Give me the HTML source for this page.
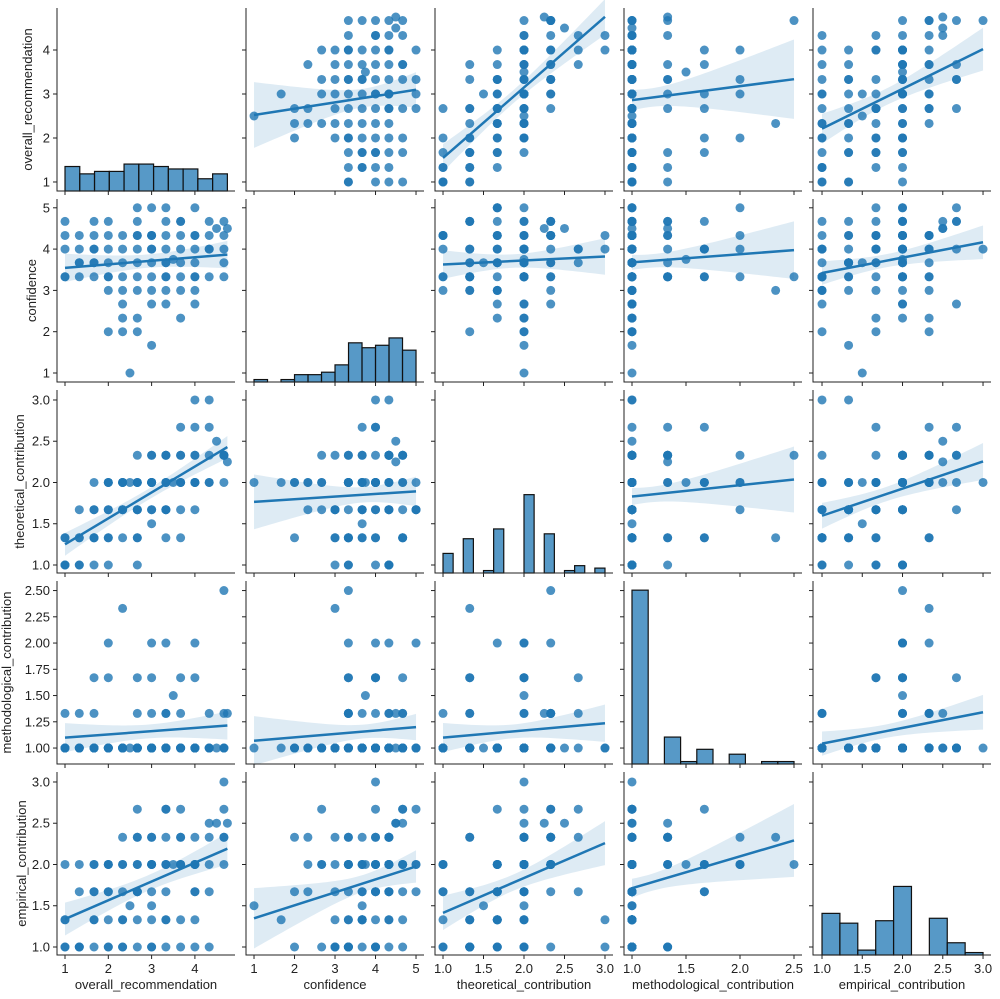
<!DOCTYPE html>
<html><head><meta charset="utf-8">
<style>
html,body{margin:0;padding:0;background:#fff;}
svg{display:block;font-family:"Liberation Sans","DejaVu Sans",sans-serif;}
</style></head>
<body>
<svg id="chart" width="1000" height="999" viewBox="0 0 1000 999" xmlns="http://www.w3.org/2000/svg"></svg>
<script>
// ---- data (one entry per review) ----
const overallRecommendation = [1,1,1,1,1,1.33,1.33,1.33,1.33,1.67,1.67,1.67,1.67,1.67,1.67,2,2,2,2,2,2,2.33,2.33,2.33,2.33,2.33,2.33,2.33,2.67,2.67,2.67,2.67,2.67,2.67,2.67,2.67,2.67,3,3,3,3,3,3,3,3,3,3.33,3.33,3.33,3.33,3.33,3.33,3.33,3.33,3.33,3.5,3.67,3.67,3.67,3.67,3.67,3.67,3.67,4,4,4,4,4,4,4,4,4.33,4.33,4.33,4.33,4.33,4.5,4.67,4.67,4.67,4.67,4.67,2.5,4.75,2,3,3.67,2.67,3.33,1.33,2,3,1.67,2.33,4];
const confidence = [4,4.67,4.33,3.33,3.33,3.67,4.33,3.67,4,3.67,4.67,4.33,3.33,3.67,4,3.33,4.33,3.33,3,2,4,4.33,3.67,3,2.67,2.33,2,3.33,5,4.67,4.33,4,3.67,3.33,3,2.33,2,4.33,4,3.33,3,2.67,1.67,3.67,4,4.33,5,4.67,4.33,4,3.67,3.33,3,2.67,3.67,3.75,4.33,4,3.67,3.33,3,2.33,4.67,3.33,4.33,4,3.67,3.33,3,2.67,4.33,4.33,3.33,4,4.67,4,4.5,4.67,4.33,4,3.33,3.67,1,4.5,3.67,4.33,4.67,4.33,3.33,3.33,4.67,5,4,4,5];
const theoreticalContribution = [1,1.33,1,1.33,1,1.33,1,1.67,1.33,1.33,1.67,1,1.33,2,1.67,1.33,2,1.67,1,2,2,1.67,2,1.33,1.67,2,2,2,1.67,2,2.33,2,1.67,2,1.33,1.67,1.33,2,2.33,2,1.67,2,2,1.5,2,2.33,1.67,2.33,1.67,2,2.33,2,1.67,2.33,2,2,2,2.67,2,2.33,1.67,2,2.33,2,2.33,2,2.67,2,2.33,2,3,2.33,2,2.67,2,3,2.5,2.33,2.33,2,2.33,2.33,2,2.25,1.67,1.67,1.33,1,1.33,1,1.33,2,1.33,1.67,1.67];
const methodologicalContribution = [1,1,1,1.33,1,1,1,1,1,1,1,1,1.33,1,1,1,1,2,1,1,1,1,1,2.33,1,1,1,1,1,1,1.33,1,1,1.67,1,1,1,1,1,1.33,1,1,1,1,1.67,1,1,1.33,1,2,1,1,1,1,1.33,1.5,1,1.67,1,1,1,1,1.33,1,2,1,1,1.67,1,1,1,1,1,1.33,1,1,1,1,1.33,1,2.5,1,1,1.33,1,1,1,1,1,1.33,1.67,2,1.67,1,1];
const empiricalContribution = [1,1.33,2,1,1.33,1,2,1.67,1,1.33,2,1.67,1,1.33,2,1,1.67,2,2,1,2,2,1.33,2.33,1,2,1.67,1,1.67,2.67,2.33,2,1.33,2,1,1.67,2.33,2,1.67,2.33,1,2,1.33,1.5,2,2.33,2.67,2,1.33,2.33,2,1,1.67,2.67,2,2,2.33,2.67,2,2,1.33,2.33,2,2.33,2,1.67,1.67,2,1,2,1.33,2,1.67,2.33,2.5,1,2.5,2.67,2.33,3,2,2.33,1.5,2.5,1.33,1,1,1.67,1.33,1,1.67,2,1.67,1.33,2];
const varNames = ["overall_recommendation","confidence","theoretical_contribution","methodological_contribution","empirical_contribution"];
const histBins = [11,12,16,10,9];
const tickVals = [[1,2,3,4],[1,2,3,4,5],[1,1.5,2,2.5,3],[1,1.25,1.5,1.75,2,2.25,2.5],[1,1.5,2,2.5,3]];
const xTickVals = [[1,2,3,4],[1,2,3,4,5],[1,1.5,2,2.5,3],[1,1.5,2,2.5],[1,1.5,2,2.5,3]];
const yTickFmt = [0,0,1,2,1];
const xTickFmt = [0,0,1,1,1];
const xDomains = [[0.815,4.926],[0.802,5.197],[0.901,3.099],[0.926,2.574],[0.888,3.099]];
const yDomains = [[0.795,4.955],[0.782,5.213],[0.903,3.121],[0.848,2.591],[0.903,3.121]];
const yLabelX = [32,36,24,11,26];

const cols = [overallRecommendation,confidence,theoreticalContribution,methodologicalContribution,empiricalContribution];
const NS="http://www.w3.org/2000/svg";
const svg=document.getElementById('chart');
const PW=178, PH=183, L0=57, T0=8, PX=189, PY=191;
const C="#1f77b4";
function mk(tag,attrs,parent){const e=document.createElementNS(NS,tag);for(const k in attrs)e.setAttribute(k,attrs[k]);(parent||svg).appendChild(e);return e;}
function xs(j,v){const d=xDomains[j];return L0+j*PX+(v-d[0])/(d[1]-d[0])*PW;}
function ys(i,v){const d=yDomains[i];return T0+i*PY+PH-(v-d[0])/(d[1]-d[0])*PH;}

const histData=[];
let gmax=0;
for(let k=0;k<5;k++){
  const v=cols[k];const mn=Math.min(...v),mx=Math.max(...v);const nb=histBins[k];const w=(mx-mn)/nb;
  const counts=new Array(nb).fill(0);
  v.forEach(x=>{let b=Math.floor((x-mn)/w+0.03);if(b>=nb)b=nb-1;counts[b]++;});
  histData.push({mn,w,counts});gmax=Math.max(gmax,...counts);
}

for(let i=0;i<5;i++){
  for(let j=0;j<5;j++){
    const g=mk('g',{});
    
    
    const left=L0+j*PX, top=T0+i*PY;
    if(i===j){
      const h=histData[i];const sc=PH*0.95/gmax;
      h.counts.forEach((c,b)=>{
        const x0=xs(j,h.mn+b*h.w),x1=xs(j,h.mn+(b+1)*h.w);
        const r=mk('rect',{x:x0,y:top+PH-c*sc,width:x1-x0,height:c*sc,fill:C,'fill-opacity':0.75,stroke:'#111','stroke-width':1.2},g);
        
        
      });
    } else {
      const X=cols[j],Y=cols[i];const n=X.length;
      const xm=X.reduce((a,b)=>a+b)/n, ym=Y.reduce((a,b)=>a+b)/n;
      let sxx=0,sxy=0;for(let k=0;k<n;k++){sxx+=(X[k]-xm)**2;sxy+=(X[k]-xm)*(Y[k]-ym);}
      const b1=sxy/sxx,b0=ym-b1*xm;
      let sse=0;for(let k=0;k<n;k++)sse+=(Y[k]-b0-b1*X[k])**2;
      const s=Math.sqrt(sse/(n-2));
      const xmin=Math.min(...X),xmax=Math.max(...X);
      const up=[],lo=[];
      for(let q=0;q<=40;q++){const x=xmin+(xmax-xmin)*q/40;const yh=b0+b1*x;const se=1.98*s*Math.sqrt(1/n+(x-xm)**2/sxx);
        up.push(xs(j,x)+','+ys(i,yh+se));lo.unshift(xs(j,x)+','+ys(i,yh-se));}
      for(let k=0;k<n;k++){
        const p=mk('circle',{cx:xs(j,X[k]),cy:ys(i,Y[k]),r:4.5,fill:C,'fill-opacity':0.8},g);
        
        
      }
      const band=mk('polygon',{points:up.concat(lo).join(' '),fill:C,'fill-opacity':0.15,stroke:'none'},g);
      
      
      const ln=mk('line',{x1:xs(j,xmin),y1:ys(i,b0+b1*xmin),x2:xs(j,xmax),y2:ys(i,b0+b1*xmax),stroke:C,'stroke-width':2.5},g);
      
      
    }
    const sp=mk('path',{d:`M${left},${top} V${top+PH} H${left+PW}`,fill:'none',stroke:'#222','stroke-width':1},g);
    
    
    tickVals[i].forEach(v=>{const y=ys(i,v);if(y<top-1||y>top+PH+1)return;
      mk('line',{x1:left-4,y1:y,x2:left,y2:y,stroke:'#222','stroke-width':1},g);
      if(j===0){const t=mk('text',{x:left-7,y:y+4.5,'text-anchor':'end','font-size':13,fill:'#222'},g);t.textContent=v.toFixed(yTickFmt[i]);
        
        }
    });
    xTickVals[j].forEach(v=>{const x=xs(j,v);
      mk('line',{x1:x,y1:top+PH,x2:x,y2:top+PH+4,stroke:'#222','stroke-width':1},g);
      if(i===4){const t=mk('text',{x:x,y:top+PH+18,'text-anchor':'middle','font-size':13,fill:'#222'},g);t.textContent=v.toFixed(xTickFmt[j]);
        
        }
    });
  }
  const yl=mk('text',{x:0,y:0,transform:`translate(${yLabelX[i]},${T0+i*PY+PH/2}) rotate(-90)`,'text-anchor':'middle','font-size':13,fill:'#222'});
  yl.textContent=varNames[i];
  
  
  const xl=mk('text',{x:L0+i*PX+PW/2,y:989,'text-anchor':'middle','font-size':13,fill:'#222'});
  xl.textContent=varNames[i];
  
  
}
</script>
</body></html>
